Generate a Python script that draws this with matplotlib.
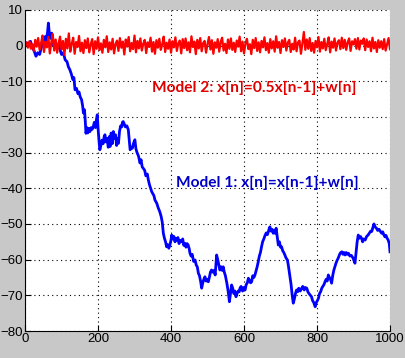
import numpy as np
import matplotlib
matplotlib.use('Agg')
import matplotlib.pyplot as plt

# Model 1 (random walk) - values at sample positions
blue_n = [0, 5, 10, 15, 20, 25, 30, 35, 40, 45, 50, 55, 58, 62, 64, 67, 70, 73, 77, 82,
          88, 92, 96, 100, 105, 110, 115, 119, 123, 127, 131, 134, 137, 141, 145, 148, 151, 155, 158, 160,
          163, 165, 167, 170, 172, 175, 178, 181, 184, 187, 190, 193, 196, 198, 200, 203, 205, 208, 211, 214,
          217, 219, 222, 225, 228, 231, 233, 236, 239, 242, 245, 248, 251, 253, 256, 259, 262, 265, 267, 269,
          272, 275, 279, 283, 286, 288, 291, 294, 297, 301, 304, 307, 311, 315, 318, 321, 324, 328, 331, 335,
          338, 341, 344, 347, 350, 353, 356, 361, 365, 369, 373, 376, 379, 382, 385, 388, 391, 394, 397, 400,
          402, 405, 408, 411, 413, 416, 419, 422, 425, 429, 432, 435, 438, 441, 444, 447, 450, 452, 455, 458,
          462, 466, 469, 472, 475, 478, 481, 484, 487, 490, 493, 496, 499, 502, 505, 508, 511, 514, 518, 521,
          523, 525, 528, 531, 534, 537, 540, 543, 546, 549, 553, 556, 558, 560, 563, 566, 569, 572, 575, 578,
          581, 584, 587, 589, 592, 596, 599, 603, 606, 609, 612, 615, 618, 621, 624, 627, 630, 633, 636, 639,
          642, 645, 648, 651, 655, 658, 661, 664, 667, 669, 671, 674, 677, 680, 683, 685, 688, 691, 694, 697,
          700, 703, 706, 709, 712, 715, 719, 722, 726, 729, 732, 735, 738, 741, 744, 747, 750, 754, 758, 761,
          765, 768, 772, 775, 778, 782, 785, 788, 791, 795, 798, 801, 804, 807, 810, 813, 816, 819, 822, 825,
          828, 831, 834, 837, 840, 843, 846, 849, 852, 855, 858, 862, 865, 868, 871, 874, 877, 880, 883, 886,
          890, 894, 899, 902, 904, 907, 910, 913, 916, 919, 922, 925, 928, 932, 936, 940, 944, 947, 950, 953,
          956, 959, 963, 966, 970, 973, 977, 980, 983, 986, 989, 992, 995, 998, 1000]
blue_v = [0, 0.8, 0.3, 1.2, -0.5, -1.5, -3, -2, -2.5, -0.5, 1.5, 2.5, 1, 4, 6.3, 3, 2, 3.5, 0.2, 0.8,
          -0.5, 0.5, -1.2, -2.5, -2, -4, -4.5, -6, -6.8, -8, -9.5, -9, -12.4, -12, -13.5, -13, -14.3, -15.2, -17, -18.9,
          -18, -21, -24.6, -23, -24.5, -23.2, -24.1, -23, -23.5, -22.7, -21.5, -23, -20.5, -19.4, -23, -27, -29.2, -28, -26.5, -27.5,
          -25.5, -25, -27, -26, -28.5, -25.5, -28.3, -24.5, -27.5, -24.1, -26, -25, -28, -26, -27.4, -24, -22.5, -22.8, -21.5, -21.3,
          -22, -22.8, -22.5, -23.6, -27, -29.2, -28.5, -28.8, -27.5, -26.4, -29, -30, -31, -32.9, -32, -34, -34.4, -35, -36.5, -36,
          -37.7, -39, -40, -40.9, -41.5, -42, -43.3, -44.2, -45.5, -46.5, -47.9, -49.5, -52.6, -54, -55, -56.4, -55.8, -56.8, -55.9, -54.5,
          -53.1, -54.2, -53.5, -55, -54, -54.5, -53.8, -55.5, -54.6, -55, -54.2, -56, -55.4, -56.5, -55.5, -55.9, -57, -58.2, -59, -58.5,
          -60.5, -60.1, -61.5, -62, -63.8, -64.5, -66, -68, -66.5, -65.5, -64.8, -66, -65.5, -66.2, -65, -63.5, -62.9, -63.5, -63, -64.3,
          -61.5, -58.7, -60, -61.5, -62.9, -62, -63, -62, -63.5, -64.5, -66.6, -68.5, -70, -71.8, -69.5, -67.1, -68, -69.5, -68.8, -70.4,
          -69.5, -68.8, -69, -68, -67.5, -68.8, -67.8, -68.5, -67, -66.5, -65.2, -65.8, -66.5, -66.2, -64.5, -65, -64.3, -63.2, -62, -60.6,
          -59, -58, -56.4, -55, -54, -53.1, -52.5, -53, -52.1, -51.3, -50.8, -52, -51.5, -52.6, -51.8, -52.6, -51.2, -53.5, -55.9, -55,
          -56.5, -56.4, -57.5, -58, -58.7, -59.5, -60.1, -62, -64.8, -67, -70, -72.2, -71, -69.5, -68.5, -69, -68, -68.8, -68, -67.5,
          -68.5, -67.8, -68, -69, -69.5, -70, -70.4, -71.5, -72, -73.2, -72, -71.5, -70.8, -69.5, -69, -68, -67.5, -67, -66.2, -65.5,
          -66, -64.3, -65, -65.5, -66.6, -64.5, -63, -62, -61, -60.2, -59.6, -58.5, -58, -57.8, -58.5, -58, -58.7, -58, -58.5, -58.2,
          -59, -58.8, -59.6, -60.5, -61, -58, -55, -53.1, -54, -53.5, -54, -55, -54.2, -54.5, -53.5, -53.1, -52.5, -52, -52.1, -51,
          -50, -50.8, -51.2, -51.8, -51.5, -52, -52.6, -52.2, -53, -53.6, -53.2, -54, -54.5, -55.5, -57.8]

# Model 2 (AR(1)), one value every 4 samples
red_v = [0.0, 0.8, -0.6, 1.2, -0.9, 0.4, -1.5, 1.6, -0.3, 2.1, -1.2, 0.7, 2.8, -1.8, 1.1, -0.5, 2.4, -2.2, 0.9, 3.2,
         -1.4, 1.7, -2.0, 0.6, 2.5, -1.1, 1.3, -2.6, 1.9, -0.8, 3.4, -1.7, 0.5, 2.2, -2.3, 1.0, -0.4, 2.7, -1.6, 0.8,
         -2.1, 1.5, -0.7, 2.0, -1.9, 0.3, 1.8, -2.4, 1.2, -0.9, 2.3, -1.3, 0.6, -2.0, 1.6, -0.5, 2.6, -1.8, 0.9, -1.1,
         1.9, -2.2, 0.4, 1.4, -1.5, 2.1, -0.6, 1.1, -2.5, 1.7, -0.3, 2.4, -1.6, 0.7, -1.0, 2.8, -1.9, 1.3, -0.8, 2.0,
         -1.4, 0.5, 1.6, -2.1, 0.9, -0.4, 2.2, -1.7, 1.0, -2.3, 1.5, -0.6, 1.9, -1.2, 0.3, 2.5, -1.8, 0.8, -0.9, 1.7,
         -2.0, 1.2, -0.5, 2.3, -1.5, 0.6, 1.4, -2.2, 1.8, -0.7, 2.0, -1.3, 0.9, -1.9, 2.6, -0.4, 1.1, -2.4, 1.6, -0.8,
         2.1, -1.6, 0.7, 1.3, -2.0, 0.4, 2.4, -1.1, 1.5, -2.3, 0.9, -0.6, 1.8, -1.7, 1.0, 2.2, -1.4, 0.5, -2.1, 1.7,
         -0.9, 2.0, -1.2, 0.8, -1.8, 1.4, -0.3, 2.5, -1.6, 1.1, -2.2, 0.6, 1.9, -1.0, 0.4, -2.4, 1.6, -0.7, 2.1, -1.5,
         0.9, -1.9, 1.3, -0.5, 2.3, -1.3, 0.7, -2.0, 1.8, -0.8, 1.2, -1.7, 2.6, -0.6, 1.0, -2.1, 1.5, -0.4, 2.0, -1.4,
         0.8, 1.6, -1.8, 0.5, -1.1, 2.2, -1.6, 0.9, 1.4, -2.3, 0.6, 3.8, -1.2, 1.7, -0.9, 2.1, -1.5, 0.7, -2.0, 1.3,
         -0.5, 2.4, -1.7, 1.0, -0.8, 1.9, -1.3, 0.4, 2.3, -1.9, 1.1, -0.6, 2.0, -1.4, 0.8, 1.5, -1.0, 2.2, -0.7, 1.6,
         -1.2, 0.9, 2.0, -1.5, 1.2, 0.3, 1.8, -0.9, 2.1, -1.1, 1.4, 0.5, 2.0, -1.3, 1.7, -0.4, 1.2, -1.6, 2.2, -0.8,
         1.0, -1.8, 1.5, -0.6, 1.2, -1.0, 1.8, -1.4, 0.4, 2.1, -1.0]
red_n = np.arange(len(red_v)) * 4

fig = plt.figure(figsize=(4.06, 3.58), dpi=100)
fig.patch.set_facecolor('#c8c8c8')
ax = fig.add_axes([0.0616, 0.0754, 0.899, 0.897])

ax.plot(blue_n, blue_v, color='#0000ff', linewidth=2.0)
ax.plot(red_n, red_v, color='#ff0000', linewidth=1.6)

ax.set_xlim(0, 1000)
ax.set_ylim(-80, 10)
ax.set_xticks(np.arange(0, 1001, 200))
ax.set_yticks(np.arange(-80, 11, 10))
ax.grid(True, color='black', linestyle=(0, (1, 3)), linewidth=0.8)
for s in ['top', 'right']:
    ax.spines[s].set_visible(False)
ax.tick_params(direction='in', length=4, pad=1.5)
for lab in ax.get_xticklabels() + ax.get_yticklabels():
    lab.set_family('Liberation Sans')
    lab.set_fontsize(9.5)

ax.text(348, -11.9, 'Model 2: x[n]=0.5x[n-1]+w[n]', color='#e00000',
        fontsize=11.2, family='Lato', va='center', fontweight='bold')
ax.text(414, -38.5, 'Model 1: x[n]=x[n-1]+w[n]', color='#0000c8',
        fontsize=11.2, family='Lato', va='center', fontweight='bold')

fig.savefig('out.png', dpi=100, facecolor=fig.get_facecolor())
